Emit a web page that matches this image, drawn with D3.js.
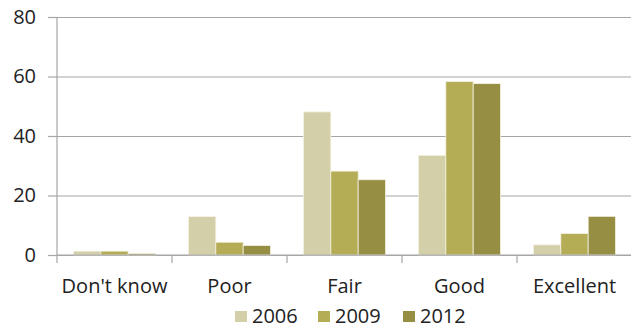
<!DOCTYPE html>
<html>
<head>
<meta charset="utf-8">
<script src="https://cdn.jsdelivr.net/npm/d3@7/dist/d3.min.js"></script>
<style>
  html, body { margin: 0; padding: 0; background: #fff; }
  svg { display: block; }
  text { font-family: "Open Sans", "Liberation Sans", sans-serif; fill: #222; }
</style>
</head>
<body>
<svg id="chart" width="631" height="328"></svg>
<script>
// Ratings by survey year
const categories = ["Don't know", "Poor", "Fair", "Good", "Excellent"];
const years = ["2006", "2009", "2012"];
const values2006 = [1.3, 12.9, 48.1, 33.5, 3.4];
const values2009 = [1.3, 4.3, 28.2, 58.3, 7.2];
const values2012 = [0.5, 3.2, 25.3, 57.6, 13.0];
const yTicks = [0, 20, 40, 60, 80];
const colors = ["#d3cfa8", "#b5ad55", "#968e42"];

const seriesByYear = [values2006, values2009, values2012];

const svg = d3.select("#chart");
const plotLeft = 57, plotRight = 632, plotTop = 17, plotBottom = 255;

const x0 = d3.scaleBand().domain(categories).range([plotLeft, plotRight]).padding(0);
const groupPad = x0.bandwidth() * 0.143;
const x1 = d3.scaleBand().domain(years).range([groupPad, x0.bandwidth() - groupPad]).padding(0);
const y = d3.scaleLinear().domain([0, 80]).range([plotBottom, plotTop]);
const color = d3.scaleOrdinal().domain(years).range(colors);

// Horizontal gridlines with left tick marks
const yAxis = svg.append("g")
  .attr("transform", `translate(${plotLeft},0)`)
  .call(d3.axisLeft(y).tickValues(yTicks).tickSize(9).tickPadding(12).tickFormat(d3.format("d")));
yAxis.select(".domain").remove();
yAxis.selectAll(".tick line").attr("stroke", "#a6a6a6").attr("stroke-width", 1.2);
yAxis.selectAll(".tick").append("line")
  .attr("x1", 0).attr("x2", plotRight - plotLeft)
  .attr("stroke", "#a6a6a6").attr("stroke-width", 1.2);
yAxis.selectAll(".tick text")
  .attr("font-size", 20).attr("fill", "#222")
  .style("font-family", "'Open Sans', sans-serif");

// Vertical axis line
svg.append("line")
  .attr("x1", plotLeft).attr("x2", plotLeft)
  .attr("y1", plotTop).attr("y2", plotBottom)
  .attr("stroke", "#a6a6a6").attr("stroke-width", 1.2);

// Bars
const rows = categories.map((c, i) => ({ cat: c, vals: years.map((yr, j) => ({ yr, v: seriesByYear[j][i] })) }));
const groups = svg.append("g").selectAll("g").data(rows).join("g")
  .attr("transform", d => `translate(${x0(d.cat)},0)`);
groups.selectAll("rect").data(d => d.vals).join("rect")
  .attr("x", d => x1(d.yr))
  .attr("width", x1.bandwidth())
  .attr("y", d => y(d.v))
  .attr("height", d => y(0) - y(d.v))
  .attr("fill", d => color(d.yr))
  .attr("stroke", "#f4f2e4")
  .attr("stroke-width", 0.8);

// Category axis along the baseline
const xAxis = svg.append("g")
  .attr("transform", `translate(0,${plotBottom})`)
  .call(d3.axisBottom(x0).tickSize(0).tickPadding(24));
xAxis.select(".domain").remove();
xAxis.selectAll(".tick text")
  .attr("font-size", 20).attr("fill", "#222")
  .style("font-family", "'Open Sans', sans-serif");
svg.append("line")
  .attr("x1", plotLeft).attr("x2", plotRight)
  .attr("y1", plotBottom).attr("y2", plotBottom)
  .attr("stroke", "#a6a6a6").attr("stroke-width", 1.2);
const boundaries = categories.map(c => x0(c)).concat([plotRight]);
svg.append("g").selectAll("line").data(boundaries).join("line")
  .attr("x1", d => d).attr("x2", d => d)
  .attr("y1", plotBottom).attr("y2", plotBottom + 8)
  .attr("stroke", "#a6a6a6").attr("stroke-width", 1.2);

// Legend
const legendX = [235, 318, 403];
const legend = svg.append("g").selectAll("g").data(years).join("g")
  .attr("transform", (d, i) => `translate(${legendX[i]},311)`);
legend.append("rect")
  .attr("width", 12).attr("height", 11)
  .attr("fill", d => color(d));
legend.append("text")
  .attr("x", 17).attr("y", 12)
  .attr("font-size", 20)
  .text(d => d);
</script>
</body>
</html>
